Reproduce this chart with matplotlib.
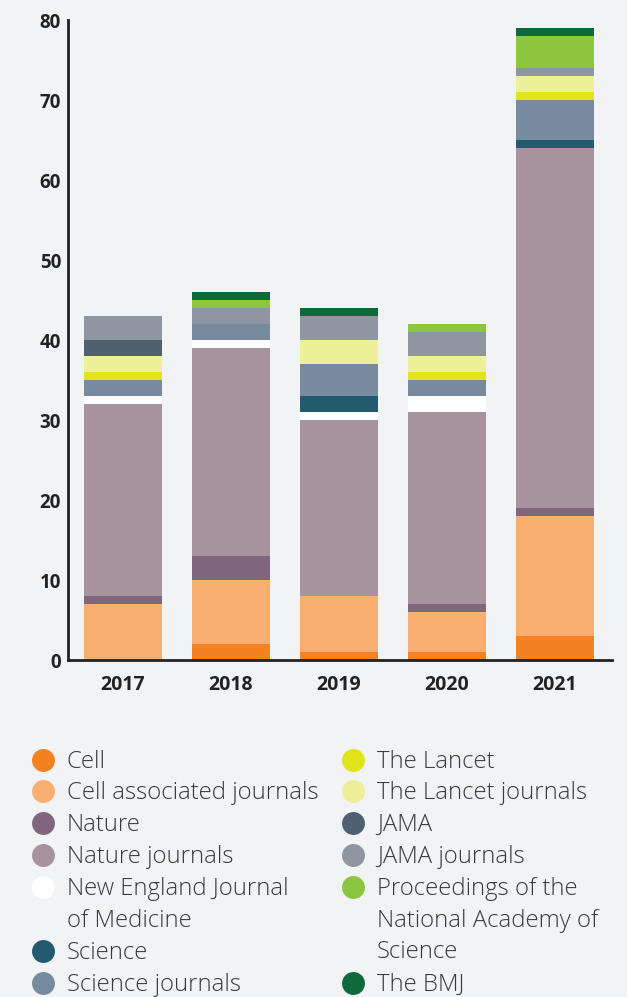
import numpy as np
import matplotlib
matplotlib.use("Agg")
import matplotlib.pyplot as plt

plt.rcParams['font.family'] = ['Open Sans', 'DejaVu Sans']

years = ["2017", "2018", "2019", "2020", "2021"]

# stacked from bottom to top
journals = ["Cell", "Cell associated journals", "Nature", "Nature journals",
            "New England Journal\nof Medicine", "Science", "Science journals",
            "The Lancet", "The Lancet journals", "JAMA", "JAMA journals",
            "Proceedings of the\nNational Academy of\nScience", "The BMJ"]
colors = ["#F58220", "#F9AE72", "#7F667C", "#A6939E", "#FFFFFF", "#245A70",
          "#788A9E", "#E2E31A", "#EEEF99", "#4F6070", "#8D96A1", "#8CC540",
          "#0E6A3A"]

cell = [0, 2, 1, 1, 3]
cell_assoc = [7, 8, 7, 5, 15]
nature = [1, 3, 0, 1, 1]
nature_j = [24, 26, 22, 24, 45]
nejm = [1, 1, 1, 2, 0]
science = [0, 0, 2, 0, 1]
science_j = [2, 2, 4, 2, 5]
lancet = [1, 0, 0, 1, 1]
lancet_j = [2, 0, 3, 2, 2]
jama = [2, 0, 0, 0, 0]
jama_j = [3, 2, 3, 3, 1]
pnas = [0, 1, 0, 1, 4]
bmj = [0, 1, 1, 0, 1]

series = [cell, cell_assoc, nature, nature_j, nejm, science, science_j,
          lancet, lancet_j, jama, jama_j, pnas, bmj]

bg = "#F1F3F5"
W, H = 627, 997
fig = plt.figure(figsize=(W / 100, H / 100), dpi=100, facecolor=bg)
ax = fig.add_axes([68 / W, 1 - 660 / H, (612 - 68) / W, 640 / H])
ax.set_facecolor(bg)

x = np.arange(len(years))
bottom = np.zeros(len(years))
for vals, c in zip(series, colors):
    vals = np.array(vals, dtype=float)
    ax.bar(x, vals, bottom=bottom, width=0.72, color=c, linewidth=0)
    bottom += vals

ax.set_ylim(0, 80)
ax.set_xlim(-0.51, 4.53)
ax.set_yticks(range(0, 81, 10))
ax.set_xticks(x)
ax.set_xticklabels(years)
ax.tick_params(length=0, labelcolor="#222222")
ax.tick_params(axis='y', pad=5, labelsize=13.5)
ax.tick_params(axis='x', pad=11, labelsize=14)
for lab in ax.get_xticklabels() + ax.get_yticklabels():
    lab.set_fontweight('bold')
for s in ["top", "right"]:
    ax.spines[s].set_visible(False)
for s in ["left", "bottom"]:
    ax.spines[s].set_color("#222222")
    ax.spines[s].set_linewidth(2)

# legend drawn by hand in two columns
lax = fig.add_axes([0, 0, 1, 1])
lax.set_xlim(0, W)
lax.set_ylim(H, 0)
lax.axis('off')
col1 = [(0, 760), (1, 791), (2, 823), (3, 855), (4, 887), (5, 951), (6, 983)]
col2 = [(7, 760), (8, 791), (9, 823), (10, 855), (11, 887), (12, 983)]
step = 31.7
for items, cx in [(col1, 43), (col2, 353)]:
    for i, y in items:
        lax.plot(cx, y, 'o', ms=16.5, color=colors[i], mec='none')
        for k, line in enumerate(journals[i].split("\n")):
            lax.text(cx + 24, y + 8 + k * step, line, fontsize=17.2,
                     fontweight='light', color="#3A3A3A", va='baseline',
                     ha='left')

fig.savefig("out.png", dpi=100, facecolor=bg)
